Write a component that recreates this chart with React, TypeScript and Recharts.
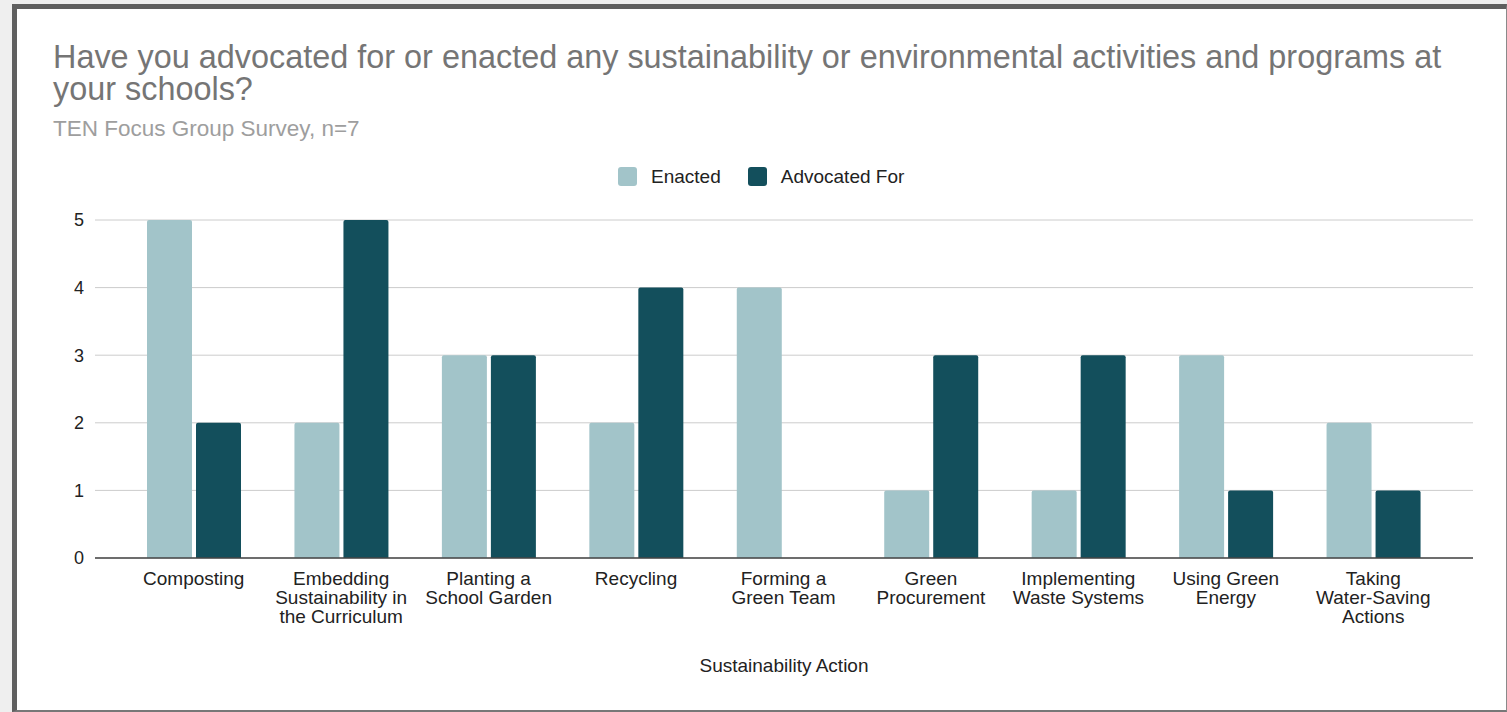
import React from "react";
import { BarChart, Bar, XAxis, YAxis, CartesianGrid, Legend } from "recharts";

const categories = [
  "Composting",
  "Embedding\nSustainability in\nthe Curriculum",
  "Planting a\nSchool Garden",
  "Recycling",
  "Forming a\nGreen Team",
  "Green\nProcurement",
  "Implementing\nWaste Systems",
  "Using Green\nEnergy",
  "Taking\nWater-Saving\nActions",
];
const enacted = [5, 2, 3, 2, 4, 1, 1, 3, 2];
const advocatedFor = [2, 5, 3, 4, 0, 3, 3, 1, 1];
const yTicks = [0, 1, 2, 3, 4, 5];
const seriesOrder = ["Enacted", "Advocated For"];

const titleLines = [
  "Have you advocated for or enacted any sustainability or environmental activities and programs at",
  "your schools?",
];
const subtitle = "TEN Focus Group Survey, n=7";
const xAxisTitle = "Sustainability Action";

const data = categories.map((c, i) => ({
  category: c,
  enacted: enacted[i],
  advocated: advocatedFor[i],
}));

const FONT = "'Liberation Sans', Arial, Helvetica, sans-serif";

const CategoryTick = (props: any) => {
  const { x, y, payload } = props;
  const lines = String(payload.value).split("\n");
  return (
    <text x={x} y={y + 27} textAnchor="middle" fill="#222222" fontSize={19} fontFamily={FONT}>
      {lines.map((l, i) => (
        <tspan key={i} x={x} dy={i === 0 ? 0 : 19}>
          {l}
        </tspan>
      ))}
    </text>
  );
};

const LegendContent = (props: any) => {
  const payload = [...(props.payload || [])].sort(
    (a: any, b: any) => seriesOrder.indexOf(a.value) - seriesOrder.indexOf(b.value)
  );
  return (
    <div style={{ display: "flex", alignItems: "center", fontFamily: FONT, fontSize: 19, color: "#222222", lineHeight: "19px" }}>
      {payload.map((p: any, i: number) => (
        <div key={i} style={{ display: "flex", alignItems: "center", marginRight: i === 0 ? 27 : 0 }}>
          <div style={{ width: 19, height: 19, borderRadius: 3, background: p.color, marginRight: 14 }} />
          <span>{p.value}</span>
        </div>
      ))}
    </div>
  );
};

export default function App() {
  return (
    <div style={{ position: "absolute", left: 0, top: 0, width: 1507, height: 712, background: "#efefef", overflow: "hidden" }}>
      <div
        style={{
          position: "absolute",
          left: 12,
          top: 4,
          width: 1495,
          height: 708,
          boxSizing: "border-box",
          borderLeft: "5px solid #5f5f5f",
          borderTop: "5px solid #5f5f5f",
          borderRight: "1px solid #8a8a8a",
          borderBottom: "2px solid #777777",
          background: "#ffffff",
        }}
      />
      <div style={{ position: "absolute", left: 0, top: 0 }}>
        <BarChart
          width={1507}
          height={712}
          data={data}
          margin={{ top: 220, right: 34, bottom: 0, left: 0 }}
          barSize={45}
          barGap={4}
        >
          <CartesianGrid vertical={false} stroke="#cccccc" strokeWidth={1} />
          <XAxis
            dataKey="category"
            interval={0}
            height={154}
            padding={{ left: 25, right: 26 }}
            tickLine={false}
            tickSize={0}
            tickMargin={0}
            axisLine={{ stroke: "#444444", strokeWidth: 1.5 }}
            tick={<CategoryTick />}
            label={{ value: xAxisTitle, position: "insideBottom", offset: 40, fill: "#222222", fontSize: 19, fontFamily: FONT }}
          />
          <YAxis
            width={95}
            domain={[0, 5]}
            ticks={yTicks}
            axisLine={false}
            tickLine={false}
            tickSize={0}
            tickMargin={11}
            tick={{ fill: "#222222", fontSize: 18, fontFamily: FONT }}
          />
          <Legend
            verticalAlign="middle"
            align="center"
            layout="horizontal"
            content={<LegendContent />}
            wrapperStyle={{ top: 167, left: 618, width: 400, height: 19, bottom: "auto", right: "auto" }}
          />
          <Bar dataKey="enacted" name="Enacted" fill="#a2c4c9" radius={[2, 2, 0, 0]} isAnimationActive={false} />
          <Bar dataKey="advocated" name="Advocated For" fill="#134f5c" radius={[2, 2, 0, 0]} isAnimationActive={false} />
        </BarChart>
      </div>
      <div style={{ position: "absolute", left: 53, top: 41, fontFamily: FONT, fontSize: 32.4, lineHeight: "32px", color: "#757575", whiteSpace: "nowrap" }}>
        {titleLines.map((l, i) => (
          <div key={i}>{l}</div>
        ))}
      </div>
      <div style={{ position: "absolute", left: 53, top: 118, fontFamily: FONT, fontSize: 22.5, lineHeight: "22.5px", color: "#9e9e9e", whiteSpace: "nowrap" }}>
        {subtitle}
      </div>
    </div>
  );
}
